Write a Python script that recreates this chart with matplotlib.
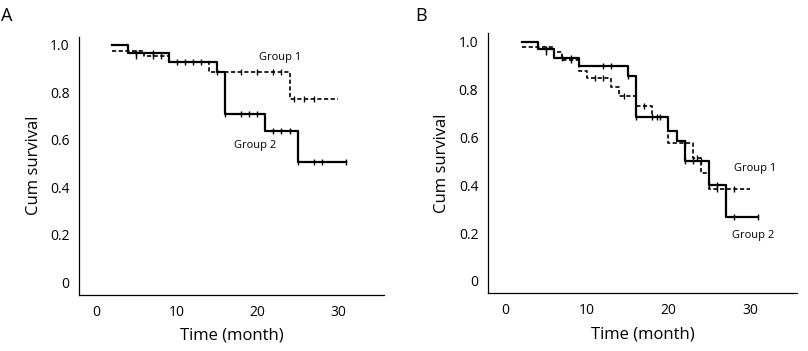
import matplotlib
matplotlib.use("Agg")
import matplotlib.pyplot as plt

plt.rcParams["font.family"] = ["Open Sans", "DejaVu Sans"]

# ---- Panel A ----
a_g1_t = [2, 6, 9, 14, 24, 30]
a_g1_s = [0.975, 0.951, 0.927, 0.885, 0.772, 0.772]
a_g1_cens_t = [5, 7, 8, 15, 18, 20, 22, 23, 24.6, 25.8, 27]
a_g1_cens_s = [0.951, 0.951, 0.951, 0.885, 0.885, 0.885, 0.885, 0.885, 0.772, 0.772, 0.772]

a_g2_t = [2, 4, 9, 15, 16, 21, 25, 31]
a_g2_s = [1.0, 0.965, 0.927, 0.885, 0.708, 0.639, 0.509, 0.509]
a_g2_cens_t = [5, 7, 10, 11, 12, 13, 16, 18, 19, 20, 22, 23, 24, 25, 27, 28, 31]
a_g2_cens_s = [0.965, 0.965, 0.927, 0.927, 0.927, 0.927, 0.708, 0.708, 0.708, 0.708,
               0.639, 0.639, 0.639, 0.509, 0.509, 0.509, 0.509]

# ---- Panel B ----
b_g1_t = [2, 6, 7, 9, 10, 13, 14, 16, 18, 20, 23, 24, 25, 30]
b_g1_s = [0.977, 0.955, 0.925, 0.876, 0.848, 0.811, 0.773, 0.730, 0.685, 0.575,
          0.516, 0.452, 0.385, 0.385]
b_g1_cens_t = [5, 8, 11, 12, 14.6, 17, 19, 22, 23.5, 26, 28]
b_g1_cens_s = [0.955, 0.925, 0.848, 0.848, 0.773, 0.730, 0.685, 0.575, 0.516, 0.385, 0.385]

b_g2_t = [2, 4, 6, 9, 15, 16, 20, 21, 22, 25, 27, 31]
b_g2_s = [1.0, 0.970, 0.932, 0.897, 0.855, 0.685, 0.628, 0.586, 0.501, 0.400, 0.268, 0.268]
b_g2_cens_t = [5, 7, 8, 12, 13, 15, 16, 18, 18.6, 22, 23, 24, 25, 26, 28, 31]
b_g2_cens_s = [0.970, 0.932, 0.932, 0.897, 0.897, 0.855, 0.685, 0.685, 0.685,
               0.501, 0.501, 0.501, 0.400, 0.400, 0.268, 0.268]

yticks = [0, 0.2, 0.4, 0.6, 0.8, 1.0]
ytick_labels = ["0", "0.2", "0.4", "0.6", "0.8", "1.0"]
xticks = [0, 10, 20, 30]

panels = [
    ("A", [0.098, 0.160, 0.377, 0.736],
     (a_g1_t, a_g1_s, a_g1_cens_t, a_g1_cens_s),
     (a_g2_t, a_g2_s, a_g2_cens_t, a_g2_cens_s),
     (22.8, 0.945), (19.7, 0.575)),
    ("B", [0.604, 0.164, 0.382, 0.741],
     (b_g1_t, b_g1_s, b_g1_cens_t, b_g1_cens_s),
     (b_g2_t, b_g2_s, b_g2_cens_t, b_g2_cens_s),
     (30.6, 0.469), (30.4, 0.19)),
]

fig = plt.figure(figsize=(8.08, 3.51), dpi=100)

for letter, rect, g1, g2, g1_lab, g2_lab in panels:
    ax = fig.add_axes(rect)
    # group 1: dashed
    ax.step(g1[0], g1[1], where="post", color="black", lw=1.2, ls=(0, (2.5, 1.5)))
    ax.plot(g1[2], g1[3], ls="none", marker="|", color="black", ms=4, mew=1.0)
    # group 2: solid
    ax.step(g2[0], g2[1], where="post", color="black", lw=1.6)
    ax.plot(g2[2], g2[3], ls="none", marker="|", color="black", ms=5, mew=1.0)

    ax.text(g1_lab[0], g1_lab[1], "Group 1", fontsize=8, ha="center", va="center")
    ax.text(g2_lab[0], g2_lab[1], "Group 2", fontsize=8, ha="center", va="center")

    ax.set_xlim(-2.1, 35.7)
    ax.set_ylim(-0.052, 1.035)
    ax.set_xticks(xticks)
    ax.set_yticks(yticks)
    ax.set_yticklabels(ytick_labels)
    ax.tick_params(length=0, labelsize=10, pad=7)
    for side in ("top", "right"):
        ax.spines[side].set_visible(False)
    for side in ("left", "bottom"):
        ax.spines[side].set_linewidth(0.9)
    ax.set_xlabel("Time (month)", fontsize=12, labelpad=6)
    ax.set_ylabel("Cum survival", fontsize=12, labelpad=6)

    fig.text(rect[0] - 0.097 if letter == "A" else rect[0] - 0.09, 0.955, letter,
             fontsize=13, ha="left", va="center")

fig.savefig("out.png", dpi=100)
